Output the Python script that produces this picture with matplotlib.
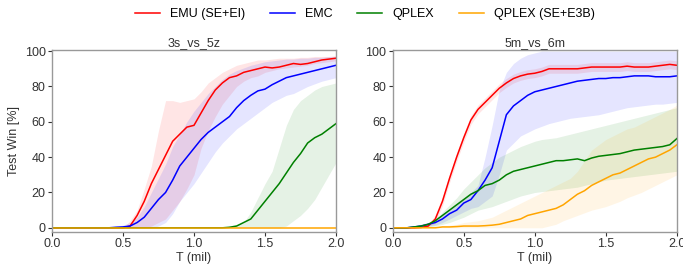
import numpy as np
import matplotlib.pyplot as plt

plt.rcParams['font.family'] = ['Liberation Sans', 'DejaVu Sans']

T = np.round(np.arange(0, 2.0001, 0.05), 2)

# ---- 3s_vs_5z ----
emu_3s = [0, 0, 0, 0, 0, 0, 0, 0, 0, 0, 0, 1, 7, 15, 25, 33, 41, 49, 53, 57,
          58, 65, 72, 78, 82, 85, 86, 88, 89, 90, 91, 90.5, 91, 92, 93, 92.5,
          93, 94, 95, 95.5, 96]
emu_3s_lo = [0, 0, 0, 0, 0, 0, 0, 0, 0, 0, 0, 0, 0, 0, 1, 3, 5, 10, 15, 22,
             30, 45, 55, 63, 70, 75, 80, 83, 85, 86, 88, 89, 90, 90.5, 91, 91.5,
             92, 93, 93.5, 94, 94.5]
emu_3s_hi = [0, 0, 0, 0, 0, 0, 0, 0, 0, 0, 0, 4, 10, 22, 35, 55, 72, 72, 71, 72,
             73, 77, 82, 85, 88, 90, 92, 93, 94, 95, 95, 95.5, 96, 96, 96, 96.5,
             96.5, 97, 97, 97, 97.5]
emc_3s = [0, 0, 0, 0, 0, 0, 0, 0, 0, 0.3, 0.5, 1, 3, 6, 11, 16, 20, 27, 35, 40,
          45, 50, 54, 57, 60, 63, 68, 72, 75, 77.5, 78.5, 81, 83, 85, 86, 87,
          88, 89, 90, 91, 92]
emc_3s_lo = [0, 0, 0, 0, 0, 0, 0, 0, 0, 0, 0, 0, 0, 0, 0, 1, 3, 8, 15, 20,
             25, 31, 37, 43, 48, 52, 56, 59, 62, 65, 68, 71, 73, 75, 76, 78,
             80, 81.5, 83, 84, 85]
emc_3s_hi = [0, 0, 0, 0, 0, 0, 0, 0, 0, 1, 1.5, 3, 6, 12, 20, 28, 36, 46, 53, 60,
             66, 71, 76, 80, 84, 87, 89, 90.5, 92, 93, 94, 94.5, 95, 95.5, 95.5,
             96, 96, 96.5, 96.5, 97, 97]
qplex_3s = [0, 0, 0, 0, 0, 0, 0, 0, 0, 0, 0, 0, 0, 0, 0, 0, 0, 0, 0, 0,
            0, 0, 0, 0, 0, 0.3, 1, 3, 5, 10, 15, 20, 25, 31, 37, 42, 48, 51,
            53, 56, 59]
qplex_3s_lo = [0, 0, 0, 0, 0, 0, 0, 0, 0, 0, 0, 0, 0, 0, 0, 0, 0, 0, 0, 0,
               0, 0, 0, 0, 0, 0, 0, 0, 0, 0, 0, 0, 0, 1, 4, 7, 11, 16, 23, 30, 37]
qplex_3s_hi = [0, 0, 0, 0, 0, 0, 0, 0, 0, 0, 0, 0, 0, 0, 0, 0, 0, 0, 0, 0,
               0, 0, 0, 0, 0, 1, 2, 3, 9, 17, 25, 32, 45, 58, 67, 72, 75, 78,
               80, 81, 82]
e3b_3s = [0] * 41

# ---- 5m_vs_6m ----
emu_5m = [0, 0, 0, 0, 0.2, 1, 5, 15, 28, 40, 51, 61, 67, 71, 75, 79, 82, 84.5,
          86, 87, 87.5, 88.5, 90, 90, 90, 90, 90, 90.5, 91, 91, 91, 91, 91,
          91.5, 91, 91, 91, 91.5, 92, 92.5, 92]
emu_5m_lo = [v - 2.5 if v > 3 else v for v in emu_5m]
emu_5m_hi = [v + 2.5 if v > 3 else v for v in emu_5m]
emc_5m = [0, 0, 0, 0.5, 1, 2, 3, 5, 8, 10, 14, 16, 21, 27, 34, 49, 64, 69, 72,
          75, 77, 78, 79, 80, 81, 82, 83, 83.5, 84, 84.5, 84.5, 85, 85, 85.5,
          86, 86, 86, 85.5, 85.5, 85.5, 86]
emc_5m_lo = [0, 0, 0, 0, 0.5, 1, 1.5, 3, 5, 7, 9, 11, 12, 15, 18, 30, 44, 48, 52,
             54, 56, 57.5, 59, 60, 61, 62, 62.5, 63, 63.5, 64, 65, 66, 67, 68,
             68.5, 69, 69.5, 70, 70, 70.5, 71]
emc_5m_hi = [0, 0, 0, 1, 2, 3, 4, 7, 10, 14, 17, 20, 24, 40, 58, 78, 88, 93, 96,
             98, 99, 100, 100, 100, 100, 100, 100, 100, 100, 100, 100, 100, 100,
             100, 100, 100, 100, 100, 100, 100, 100]
qplex_5m = [0, 0, 0, 0.5, 1, 2, 4, 7, 10, 13, 16, 19, 21, 24, 25, 27, 30, 32,
            33, 34, 35, 36, 37, 38, 38, 38.5, 39, 38, 39.5, 40.5, 41, 41.5, 42,
            43, 44, 44.5, 45, 45.5, 46, 47, 50.5]
qplex_5m_lo = [0, 0, 0, 0, 0.3, 0.5, 1, 2, 3, 4.5, 6, 8, 10, 11, 12, 13.5, 15,
               16.5, 18, 19, 20, 20.5, 21, 21.5, 22, 22.5, 23, 24, 25, 26, 27,
               27.5, 28, 28.5, 29, 29.5, 30, 30.5, 31, 31.5, 32]
qplex_5m_hi = [0, 0, 0, 1, 2, 3, 5, 9, 13, 17, 22, 26, 30, 34, 37, 40, 42, 44,
               46, 47.5, 49, 50, 50.5, 51, 52, 53, 54, 55, 56, 57, 58, 59, 60,
               61, 62, 63, 64, 65, 66, 67, 68]
e3b_5m = [0, 0, 0, 0, 0, 0, 0, 0.5, 0.5, 0.7, 1, 1, 1, 1.2, 1.5, 2, 3, 4, 5,
          7, 8, 9, 10, 11, 13, 16, 19, 21, 24, 26, 28, 30, 31, 33, 35, 37, 39,
          40, 42, 44, 47]
e3b_5m_lo = [0, 0, 0, 0, 0, 0, 0, 0, 0, 0, 0, 0, 0, 0, 0, 0, 0, 0, 0, 0, 0, 0,
             1, 2, 4, 5.5, 7, 8.5, 10, 11, 12, 13.5, 15, 17, 18.5, 20, 22, 24,
             26, 28, 30]
e3b_5m_hi = [0, 0, 0, 0, 0, 0, 0, 1, 1.5, 2, 3, 3.5, 4, 5, 6, 8, 10, 12, 14, 16,
             18, 20, 22, 24, 26, 28, 32, 38, 44, 47, 50, 52, 54, 56, 57, 59, 61,
             63, 65, 67, 69.5]

labels = ['EMU (SE+EI)', 'EMC', 'QPLEX', 'QPLEX (SE+E3B)']
colors = ['red', 'blue', 'green', 'orange']

panels = [
    ('3s_vs_5z', [(emu_3s, emu_3s_lo, emu_3s_hi), (emc_3s, emc_3s_lo, emc_3s_hi),
                  (qplex_3s, qplex_3s_lo, qplex_3s_hi), (e3b_3s, e3b_3s, e3b_3s)]),
    ('5m_vs_6m', [(emu_5m, emu_5m_lo, emu_5m_hi), (emc_5m, emc_5m_lo, emc_5m_hi),
                  (qplex_5m, qplex_5m_lo, qplex_5m_hi), (e3b_5m, e3b_5m_lo, e3b_5m_hi)]),
]

fs = 9
fig = plt.figure(figsize=(6.83, 2.65), dpi=100)
axes = [fig.add_axes([0.076, 0.125, 0.416, 0.686]),
        fig.add_axes([0.575, 0.125, 0.416, 0.686])]

for ax, (title, series) in zip(axes, panels):
    for (m, lo, hi), lab, c in zip(series, labels, colors):
        ax.fill_between(T, lo, hi, color=c, alpha=0.1, linewidth=0)
        ax.plot(T, m, color=c, lw=1.1, label=lab)
    ax.set_xlim(0, 2.0)
    ax.set_ylim(-2.3, 100.6)
    ax.set_xticks([0, 0.5, 1.0, 1.5, 2.0])
    ax.set_yticks([0, 20, 40, 60, 80, 100])
    ax.set_xlabel('T (mil)', fontsize=fs, color='#333333', labelpad=1)
    ax.set_title(title, fontsize=fs, color='#333333', pad=3)
    ax.tick_params(labelsize=fs, colors='#333333', length=3, width=0.8, pad=1.5)
    for s in ax.spines.values():
        s.set_color('#999999')
        s.set_linewidth(1.0)

axes[0].set_ylabel('Test Win [%]', fontsize=fs, color='#333333', labelpad=3)

handles, labs = axes[0].get_legend_handles_labels()
fig.legend(handles, labs, loc='center', bbox_to_anchor=(0.534, 0.947), ncol=4,
           frameon=False, fontsize=fs, handlelength=2.0, columnspacing=2.0)

plt.savefig('out.png', dpi=100)
